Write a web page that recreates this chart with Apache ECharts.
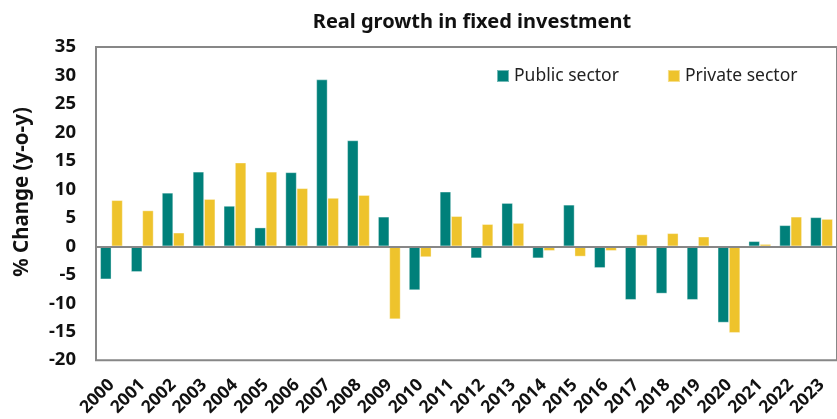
<!DOCTYPE html>
<html>
<head>
<meta charset="utf-8">
<script src="https://cdn.jsdelivr.net/npm/echarts@6/dist/echarts.min.js"></script>
<style>
  html, body { margin: 0; padding: 0; background: #fff; }
  #chart { width: 837px; height: 419px; }
</style>
</head>
<body>
<div id="chart"></div>
<script>
// Years on the category axis
const years = ['2000','2001','2002','2003','2004','2005','2006','2007','2008','2009','2010','2011',
               '2012','2013','2014','2015','2016','2017','2018','2019','2020','2021','2022','2023'];

// Real growth in fixed investment, % change y-o-y
const publicSector  = [-5.8, -4.5, 9.4, 13.1, 7.1, 3.3, 13.0, 29.3, 18.6, 5.2, -7.7, 9.6,
                       -2.1, 7.6, -2.1, 7.3, -3.8, -9.4, -8.3, -9.4, -13.4, 0.9, 3.7, 5.1];
const privateSector = [8.1, 6.3, 2.4, 8.3, 14.7, 13.1, 10.2, 8.5, 9.0, -12.8, -1.9, 5.3,
                       3.9, 4.1, -0.8, -1.8, -0.8, 2.1, 2.3, 1.7, -15.2, 0.4, 5.2, 4.8];

const yMin = -20, yMax = 35, yStep = 5;

const FONT = '"Noto Sans", "Open Sans", sans-serif';
const AXIS_GREY = '#878787';

const chart = echarts.init(document.getElementById('chart'), null, { renderer: 'canvas' });

chart.setOption({
  animation: false,
  backgroundColor: '#ffffff',
  title: {
    text: 'Real growth in fixed investment',
    left: 472, top: 12, textAlign: 'center', padding: 0,
    textStyle: { fontFamily: FONT, fontSize: 20, fontWeight: 'bold', color: '#111' }
  },
  legend: {
    left: 496, top: 67, padding: 0,
    itemWidth: 12, itemHeight: 12, itemGap: 48,
    icon: 'rect',
    textStyle: { fontFamily: FONT, fontSize: 17.5, color: '#222' },
    data: ['Public sector', 'Private sector']
  },
  grid: {
    left: 96, top: 47, right: -8, bottom: 58,
    show: true, borderColor: AXIS_GREY, borderWidth: 2, backgroundColor: 'transparent'
  },
  xAxis: {
    type: 'category',
    data: years,
    axisLine: { show: false, onZero: false },
    axisTick: { show: false },
    axisLabel: {
      interval: 0, rotate: 45, margin: 22,
      fontFamily: FONT, fontSize: 17.5, fontWeight: 'bold', color: '#111'
    }
  },
  yAxis: {
    type: 'value',
    min: yMin, max: yMax, interval: yStep,
    axisLine: { show: false },
    axisTick: { show: false },
    splitLine: { show: false },
    axisLabel: { margin: 20, fontFamily: FONT, fontSize: 18.5, fontWeight: 'bold', color: '#111' }
  },
  graphic: [{
    type: 'text',
    x: 22, y: 192, rotation: Math.PI / 2,
    style: {
      text: '% Change (y-o-y)',
      fontFamily: FONT, fontSize: 20.5, fontWeight: 'bold', fill: '#111',
      textAlign: 'center', textVerticalAlign: 'middle'
    }
  }],
  series: [
    {
      name: 'Public sector', type: 'bar', data: publicSector,
      barGap: '0%', barCategoryGap: '27%',
      itemStyle: { color: '#00807A', borderColor: 'rgba(255,255,255,0.45)', borderWidth: 0.8 },
      markLine: {
        silent: true, symbol: 'none', label: { show: false },
        lineStyle: { color: AXIS_GREY, width: 2, type: 'solid' },
        data: [{ yAxis: 0 }]
      }
    },
    {
      name: 'Private sector', type: 'bar', data: privateSector,
      barGap: '0%', barCategoryGap: '27%',
      itemStyle: { color: '#EEC32C', borderColor: 'rgba(255,255,255,0.45)', borderWidth: 0.8 }
    }
  ]
});
</script>
</body>
</html>
